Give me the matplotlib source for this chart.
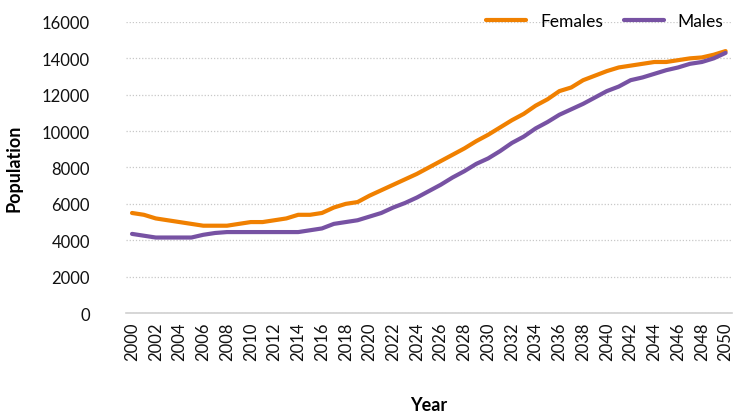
import matplotlib.pyplot as plt
import numpy as np

plt.rcParams['font.family'] = ['Lato', 'DejaVu Sans']

years = list(range(2000, 2051))
females = [5500, 5400, 5200, 5100, 5000, 4900, 4800, 4800, 4800, 4900,
           5000, 5000, 5100, 5200, 5400, 5400, 5500, 5800, 6000, 6100,
           6450, 6750, 7050, 7350, 7650, 8000, 8350, 8700, 9050, 9450,
           9800, 10200, 10600, 10950, 11400, 11750, 12200, 12400, 12800, 13050,
           13300, 13500, 13600, 13700, 13800, 13800, 13900, 14000, 14050, 14200,
           14400]
males = [4350, 4250, 4150, 4150, 4150, 4150, 4300, 4400, 4450, 4450,
         4450, 4450, 4450, 4450, 4450, 4550, 4650, 4900, 5000, 5100,
         5300, 5500, 5800, 6050, 6350, 6700, 7050, 7450, 7800, 8200,
         8500, 8900, 9350, 9700, 10150, 10500, 10900, 11200, 11500, 11850,
         12200, 12450, 12800, 12950, 13150, 13350, 13500, 13700, 13800, 14000,
         14300]

fig = plt.figure(figsize=(7.33, 4.14), dpi=100)
ax = fig.add_axes([0.172, 0.2415, 0.826, 0.703])

ax.plot(years, females, color='#F08000', lw=3, label='Females', solid_capstyle='round')
ax.plot(years, males, color='#7752A3', lw=3, label='Males', solid_capstyle='round')

ax.set_xlim(1999.5, 2050.5)
ax.set_ylim(0, 16000)
ax.set_yticks(np.arange(0, 16001, 2000))
ax.set_xticks(years[::2])
ax.set_xticklabels([str(y) for y in years[::2]], rotation=90)
ax.tick_params(axis='both', length=0, labelsize=12, colors='#111111')
ax.tick_params(axis='y', pad=26)
ax.tick_params(axis='x', pad=6)

ax.grid(axis='y', linestyle=(0, (1, 1.5)), color='#c8c8c8', lw=0.9)
ax.set_axisbelow(True)
for s in ['top', 'right', 'left']:
    ax.spines[s].set_visible(False)
ax.spines['bottom'].set_color('#d0d0d0')
ax.spines['bottom'].set_linewidth(1.2)

ax.set_xlabel('Year', fontsize=13, fontweight='bold', labelpad=26)
ax.set_ylabel('Population', fontsize=13, fontweight='bold', labelpad=14)

ax.legend(loc='upper right', bbox_to_anchor=(1.012, 1.085), ncol=2, frameon=False,
          fontsize=12.5, handlelength=2.3, columnspacing=1.2, handletextpad=0.8)

fig.savefig('out.png', dpi=100)
